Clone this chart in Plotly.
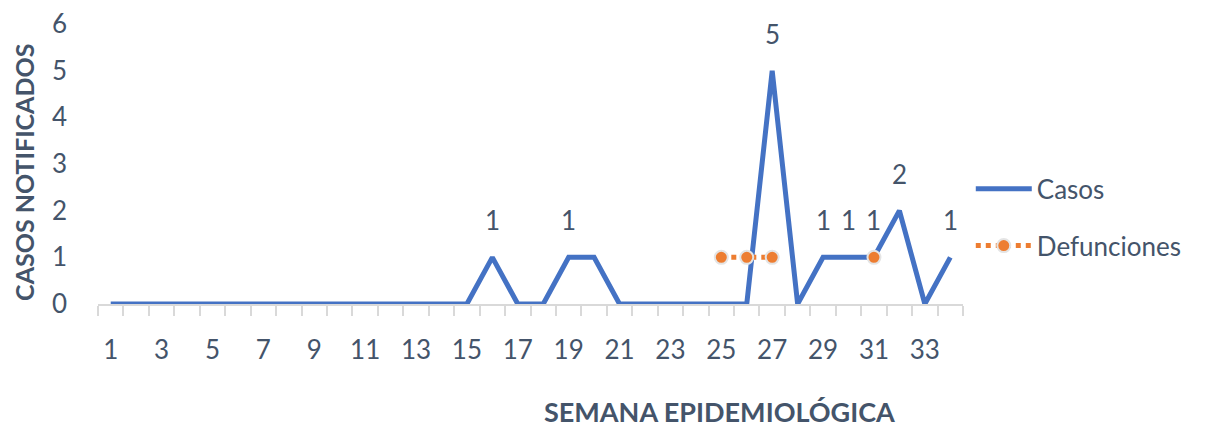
import plotly.graph_objects as go

# semanas epidemiológicas 1..34
semanas = list(range(1, 35))
casos = [0] * 15 + [1, 0, 0, 1, 1, 0, 0, 0, 0, 0, 0, 5, 0, 1, 1, 1, 2, 0, 1]
defunciones = [None] * 24 + [1, 1, 1, None, None, None, 1, None, None, None]
# weeks whose case count carries a data label
semanas_etiqueta = [16, 19, 27, 29, 30, 31, 32, 34]

TXT = "#44546A"
FONT = "Lato"

fig = go.Figure()

fig.add_trace(go.Scatter(
    x=semanas, y=casos, name="Casos", mode="lines",
    line=dict(color="#4472C4", width=5),
    cliponaxis=False, legendgroup="a",
))
fig.add_trace(go.Scatter(
    x=semanas, y=defunciones, name="Defunciones", mode="lines+markers",
    line=dict(color="#ED7D31", width=5, dash="dot"),
    marker=dict(color="#ED7D31", size=13, line=dict(color="#E4E4E4", width=2)),
    connectgaps=False, cliponaxis=False, legendgroup="b",
))

# data labels above the points
for s in semanas_etiqueta:
    fig.add_annotation(x=s, y=casos[s - 1], text=str(casos[s - 1]),
                       showarrow=False, yshift=37,
                       font=dict(family=FONT, size=26, color=TXT))

# axis titles
fig.add_annotation(xref="paper", yref="paper", x=0.719, y=-0.385,
                   xanchor="center", yanchor="middle",
                   text="<b>SEMANA EPIDEMIOLÓGICA</b>", showarrow=False,
                   font=dict(family=FONT, size=27, color=TXT))
fig.add_annotation(xref="paper", yref="paper", x=-0.085, y=0.47,
                   xanchor="center", yanchor="middle",
                   text="<b>CASOS NOTIFICADOS</b>", showarrow=False, textangle=-90,
                   font=dict(family=FONT, size=25, color=TXT))

fig.update_xaxes(
    range=[0.5, 34.5], tickvals=semanas[::2], ticktext=[str(s) for s in semanas[::2]],
    showgrid=False, zeroline=False, showline=True, linecolor="#D9D9D9", linewidth=2,
    ticks="outside", ticklen=10, tickcolor="rgba(0,0,0,0)", ticklabelstandoff=12,
    minor=dict(ticks="outside", ticklen=10, tickcolor="#D9D9D9", tickwidth=2,
               tick0=0.5, dtick=1, showgrid=False),
    tickfont=dict(family=FONT, size=26, color=TXT), automargin=False,
)
fig.update_yaxes(
    range=[0, 6], dtick=1, showgrid=False, zeroline=False, showline=False,
    ticklabelstandoff=30, automargin=False,
    tickfont=dict(family=FONT, size=26, color=TXT),
)

fig.update_layout(
    width=1210, height=427,
    margin=dict(l=98, r=247, t=24, b=123),
    plot_bgcolor="white", paper_bgcolor="white",
    legend=dict(x=1.009, y=0.495, xanchor="left", yanchor="top", itemwidth=56,
                tracegroupgap=20, font=dict(family=FONT, size=26, color=TXT)),
)

# drop the page's default body margin so the figure sits at the top-left corner
fig.write_html("out.html", config={"displayModeBar": False},
               post_script="document.body.style.margin='0';")
